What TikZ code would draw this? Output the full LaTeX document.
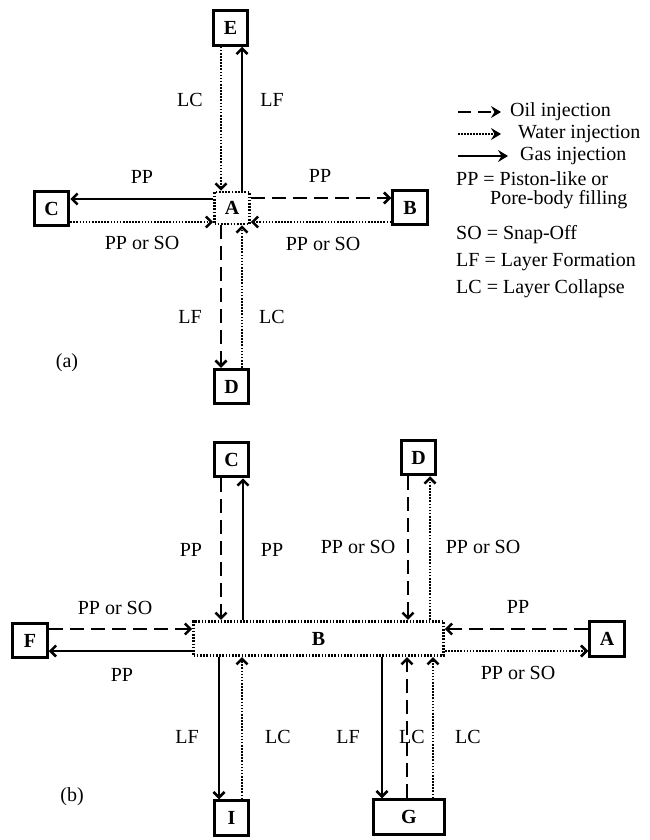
\documentclass[tikz,border=0pt]{standalone}
\usepackage{fontspec}
\setmainfont{Liberation Serif}
\usetikzlibrary{arrows.meta}
\begin{document}
\begin{tikzpicture}[x=1pt,y=-1pt,
  box/.style={draw,line width=3pt,minimum width=34.5pt,minimum height=34.5pt,inner sep=0pt,font=\fontsize{20}{22}\selectfont\bfseries},
  dbox/.style={box,line width=2.8pt,dash pattern=on 1.7pt off 1.5pt},
  lab/.style={font=\fontsize{20}{22}\selectfont,inner sep=0pt},
  leg/.style={lab,anchor=west},
  tip/.style={-{Straight Barb[length=5.5pt,width=11pt,line width=2.5pt]}},
  gas/.style={tip,line width=2.5pt},
  oil/.style={tip,line width=2.8pt,dash pattern=on 14pt off 7pt},
  water/.style={tip,line width=2.6pt,dash pattern=on 1.6pt off 1.5pt},
  ltip/.style={-{Stealth[length=10pt,width=12pt,inset=3.5pt]}},
]
\useasboundingbox (0,0) rectangle (650,840);

% ---------- (a) ----------
\node[box] (aE) at (230.5,28) {E};
\node[dbox,minimum width=35pt,minimum height=32pt] (aA) at (232,208) {A};
\node[box] (aC) at (51.5,208.5) {C};
\node[box] (aB) at (410,207.5) {B};
\node[box] (aD) at (231.5,386.5) {D};

\draw[water] ([xshift=-11]aA.north |- aE.south) -- ([xshift=-11]aA.north);
\draw[gas] ([xshift=10]aA.north) -- ([xshift=10]aA.north |- aE.south);
\draw[gas] ([yshift=9]aA.west) -- ([yshift=9]aA.west -| aC.east);
\draw[water] ([yshift=-14]aA.west -| aC.east) -- ([yshift=-14]aA.west);
\draw[oil] ([yshift=10]aA.east) -- ([yshift=10]aA.east -| aB.west);
\draw[water] ([yshift=-14]aA.east -| aB.west) -- ([yshift=-14]aA.east);
\draw[oil] ([xshift=-11]aA.south) -- ([xshift=-11]aA.south |- aD.north);
\draw[water] ([xshift=10]aA.south |- aD.north) -- ([xshift=10]aA.south);

\node[lab] (aL1) at (190,100) {LC};
\node[lab] (aL2) at (272,100) {LF};
\node[lab] (aL3) at (142,177) {PP};
\node[lab] (aL4) at (320,176) {PP};
\node[lab] (aL5) at (142,243) {PP or SO};
\node[lab] (aL6) at (323,244) {PP or SO};
\node[lab] (aL7) at (190,317) {LF};
\node[lab] (aL8) at (272,317) {LC};
\node[lab] (aTag) at (67,363) {(a)};

% legend
\coordinate (lo1) at (458,112); \coordinate (lo2) at (501,112);
\coordinate (lw1) at (458,134); \coordinate (lw2) at (501,134);
\coordinate (lg1) at (458,156); \coordinate (lg2) at (508,156);
\draw[line width=2.8pt,dash pattern=on 13pt off 7pt,ltip] (lo1) -- (lo2);
\draw[line width=2.4pt,dash pattern=on 1.5pt off 1.5pt,ltip] (lw1) -- (lw2);
\draw[line width=2.4pt,ltip] (lg1) -- (lg2);
\node[leg] (t1) at (510,112) {Oil injection};
\node[leg] (t2) at (518,134) {Water injection};
\node[leg] (t3) at (520,156) {Gas injection};
\node[leg] (t4) at (456,179) {PP = Piston-like or};
\node[leg] (t5) at (490,200) {Pore-body filling};
\node[leg] (t6) at (456,235) {SO = Snap-Off};
\node[leg] (t7) at (456,262) {LF = Layer Formation};
\node[leg] (t8) at (456,289) {LC = Layer Collapse};

% ---------- (b) ----------
\node[box] (bC) at (231.5,459.5) {C};
\node[box] (bD) at (418.5,457.5) {D};
\node[box] (bF) at (30,640.5) {F};
\node[dbox,minimum width=250pt] (bB) at (318.5,638.5) {B};
\node[box] (bA) at (607,639) {A};
\node[box] (bI) at (231.5,818) {I};
\node[box,minimum width=71pt] (bG) at (409,817) {G};

\draw[oil] ([xshift=-10.5]bC.south) -- ([xshift=-10.5]bC.south |- bB.north);
\draw[gas] ([xshift=11.5]bC.south |- bB.north) -- ([xshift=11.5]bC.south);
\draw[oil] ([xshift=-10.5]bD.south) -- ([xshift=-10.5]bD.south |- bB.north);
\draw[water] ([xshift=11.5]bD.south |- bB.north) -- ([xshift=11.5]bD.south);
\draw[oil] ([yshift=11.5]bF.east) -- ([yshift=11.5]bF.east -| bB.west);
\draw[gas] ([yshift=-10.5]bF.east -| bB.west) -- ([yshift=-10.5]bF.east);
\draw[oil] ([yshift=10]bA.west) -- ([yshift=10]bA.west -| bB.east);
\draw[water] ([yshift=-12]bA.west -| bB.east) -- ([yshift=-12]bA.west);
\draw[gas] ([xshift=-12.5]bI.north |- bB.south) -- ([xshift=-12.5]bI.north);
\draw[water] ([xshift=10.5]bI.north) -- ([xshift=10.5]bI.north |- bB.south);
\draw[gas] ([xshift=-27]bG.north |- bB.south) -- ([xshift=-27]bG.north);
\draw[oil] ([xshift=-2]bG.north) -- ([xshift=-2]bG.north |- bB.south);
\draw[water] ([xshift=24]bG.north) -- ([xshift=24]bG.north |- bB.south);

\node[lab] (bL1) at (191,550) {PP};
\node[lab] (bL2) at (272,550) {PP};
\node[lab] (bL3) at (358,547) {PP or SO};
\node[lab] (bL4) at (483,547) {PP or SO};
\node[lab] (bL5) at (115,608) {PP or SO};
\node[lab] (bL6) at (122,675) {PP};
\node[lab] (bL7) at (518,607) {PP};
\node[lab] (bL8) at (518,673) {PP or SO};
\node[lab] (bL9) at (187,737) {LF};
\node[lab] (bL10) at (278,737) {LC};
\node[lab] (bL11) at (348,737) {LF};
\node[lab] (bL12) at (412,737) {LC};
\node[lab] (bL13) at (468,737) {LC};
\node[lab] (bTag) at (72,797) {(b)};
\end{tikzpicture}
\end{document}
